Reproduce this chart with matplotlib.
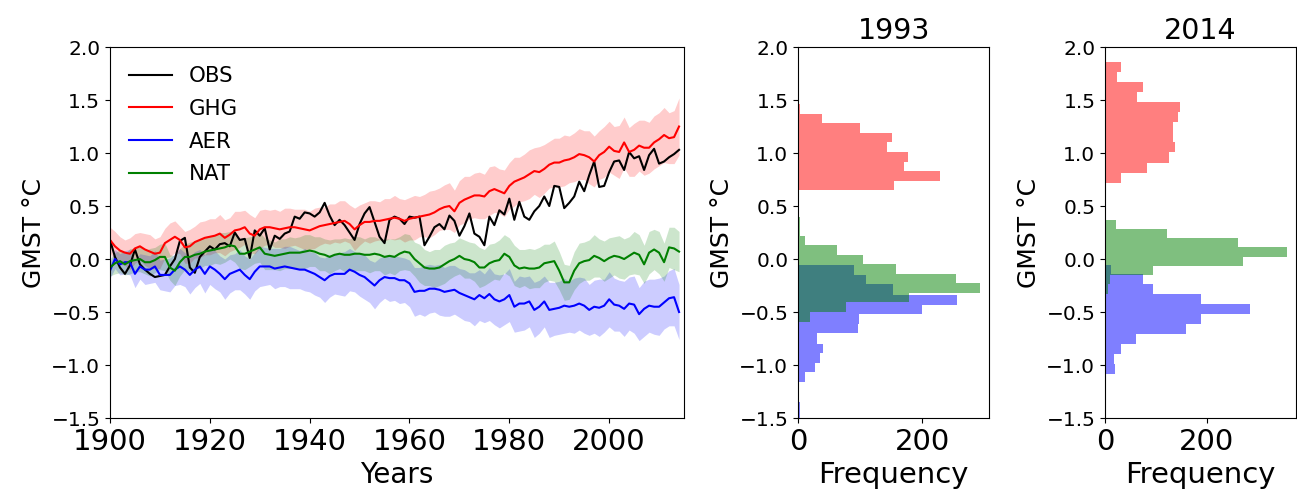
import numpy as np
import matplotlib
matplotlib.use('Agg')
import matplotlib.pyplot as plt

# anos da serie temporal
years = np.arange(1900, 2015)

obs = [0.18, 0.02, -0.08, -0.14, -0.06, 0.09, -0.05, -0.10, -0.14, -0.17,
       -0.16, -0.15, -0.07, 0.00, 0.17, 0.20, -0.08, -0.13, 0.02, 0.07,
       0.12, 0.09, 0.14, 0.15, 0.12, 0.25, 0.18, 0.19, 0.01, 0.27,
       0.22, 0.29, 0.09, 0.22, 0.19, 0.24, 0.26, 0.40, 0.38, 0.44,
       0.43, 0.40, 0.44, 0.53, 0.41, 0.32, 0.37, 0.32, 0.25, 0.18,
       0.33, 0.43, 0.49, 0.35, 0.21, 0.15, 0.37, 0.40, 0.38, 0.33,
       0.40, 0.39, 0.40, 0.13, 0.21, 0.30, 0.33, 0.28, 0.41, 0.36,
       0.22, 0.31, 0.43, 0.24, 0.21, 0.13, 0.40, 0.32, 0.46, 0.42,
       0.57, 0.37, 0.54, 0.40, 0.37, 0.45, 0.50, 0.59, 0.50, 0.69,
       0.68, 0.48, 0.53, 0.59, 0.73, 0.64, 0.79, 0.92, 0.68, 0.69,
       0.82, 0.92, 0.93, 0.84, 1.01, 0.95, 0.97, 0.84, 0.98, 1.04,
       0.90, 0.92, 0.96, 0.99, 1.03]

ghg = [0.18, 0.12, 0.08, 0.06, 0.05, 0.10, 0.12, 0.09, 0.07, 0.05,
       0.06, 0.15, 0.18, 0.21, 0.18, 0.11, 0.12, 0.16, 0.18, 0.20,
       0.21, 0.22, 0.24, 0.20, 0.23, 0.27, 0.28, 0.30, 0.24, 0.22,
       0.28, 0.30, 0.30, 0.29, 0.28, 0.29, 0.30, 0.30, 0.29, 0.28,
       0.27, 0.29, 0.31, 0.32, 0.33, 0.34, 0.35, 0.36, 0.33, 0.28,
       0.32, 0.35, 0.35, 0.36, 0.36, 0.37, 0.38, 0.39, 0.38, 0.36,
       0.38, 0.39, 0.40, 0.41, 0.42, 0.44, 0.47, 0.49, 0.50, 0.45,
       0.53, 0.56, 0.58, 0.60, 0.60, 0.59, 0.64, 0.66, 0.64, 0.62,
       0.69, 0.73, 0.75, 0.77, 0.80, 0.83, 0.82, 0.85, 0.89, 0.91,
       0.91, 0.93, 0.94, 0.96, 0.99, 0.98, 0.96, 0.92, 0.98, 1.01,
       1.06, 1.02, 1.01, 1.10, 1.01, 1.03, 1.07, 1.05, 1.05, 1.10,
       1.13, 1.17, 1.14, 1.15, 1.25]

aer = [-0.11, 0.00, -0.05, -0.03, -0.03, -0.14, -0.07, -0.10, -0.10, -0.07,
       -0.15, -0.15, -0.15, -0.10, -0.07, -0.10, -0.15, -0.10, -0.07, -0.14,
       -0.07, -0.10, -0.14, -0.19, -0.14, -0.12, -0.10, -0.15, -0.19, -0.12,
       -0.07, -0.07, -0.07, -0.09, -0.08, -0.07, -0.08, -0.09, -0.10, -0.10,
       -0.12, -0.14, -0.17, -0.20, -0.16, -0.14, -0.14, -0.14, -0.10, -0.12,
       -0.15, -0.17, -0.21, -0.25, -0.20, -0.17, -0.18, -0.18, -0.20, -0.20,
       -0.23, -0.31, -0.30, -0.30, -0.28, -0.28, -0.29, -0.31, -0.30, -0.29,
       -0.32, -0.34, -0.36, -0.38, -0.34, -0.37, -0.33, -0.38, -0.40, -0.38,
       -0.34, -0.45, -0.42, -0.42, -0.40, -0.48, -0.45, -0.40, -0.48, -0.47,
       -0.46, -0.44, -0.45, -0.44, -0.42, -0.44, -0.48, -0.45, -0.46, -0.44,
       -0.38, -0.43, -0.44, -0.47, -0.42, -0.43, -0.52, -0.47, -0.44, -0.45,
       -0.45, -0.41, -0.37, -0.36, -0.50]

nat = [-0.08, -0.04, -0.02, -0.05, -0.02, -0.01, 0.00, -0.03, -0.03, -0.01,
       0.02, 0.02, -0.08, -0.11, -0.03, 0.02, 0.02, 0.04, 0.05, 0.07,
       0.08, 0.09, 0.10, 0.11, 0.13, 0.12, 0.05, 0.05, 0.07, 0.09,
       0.11, 0.05, 0.04, 0.03, 0.04, 0.05, 0.06, 0.06, 0.06, 0.07,
       0.08, 0.07, 0.05, 0.04, 0.02, 0.04, 0.05, 0.04, 0.04, 0.05,
       0.05, 0.04, 0.04, 0.05, 0.04, 0.02, 0.03, 0.02, 0.05, 0.07,
       0.06, 0.00, -0.04, -0.08, -0.09, -0.09, -0.08, -0.05, -0.02, 0.00,
       0.03, 0.00, -0.01, -0.03, -0.08, -0.08, -0.04, -0.02, -0.01, 0.05,
       0.02, -0.06, -0.09, -0.08, -0.09, -0.09, -0.08, -0.04, -0.03, -0.02,
       -0.11, -0.22, -0.22, -0.11, -0.04, -0.02, -0.01, 0.03, 0.01, -0.02,
       0.01, 0.03, 0.02, 0.00, 0.03, 0.06, 0.04, -0.05, 0.06, 0.09,
       0.06, -0.03, 0.11, 0.10, 0.07]

# meia largura das faixas de incerteza
ghg_sd = [.12, .14, .13, .12, .15, .14, .13, .15, .16, .14,
          .15, .14, .16, .15, .13, .15, .16, .15, .17, .16,
          .17, .16, .18, .17, .16, .18, .17, .16, .18, .17,
          .18, .17, .16, .18, .17, .19, .18, .17, .18, .19,
          .18, .19, .18, .17, .19, .18, .20, .19, .18, .20,
          .19, .18, .20, .19, .18, .20, .19, .21, .19, .20,
          .20, .21, .19, .20, .22, .21, .20, .21, .22, .20,
          .21, .22, .20, .21, .22, .21, .23, .22, .21, .22,
          .22, .23, .21, .22, .23, .22, .24, .23, .22, .23,
          .23, .24, .22, .23, .24, .23, .25, .24, .23, .24,
          .24, .23, .25, .24, .23, .25, .24, .26, .24, .25,
          .25, .26, .24, .25, .27]

aer_sd = [.07, .09, .10, .11, .12, .13, .12, .14, .13, .15,
          .14, .15, .16, .15, .17, .16, .18, .17, .16, .18,
          .17, .18, .17, .19, .18, .17, .19, .18, .19, .18,
          .19, .18, .17, .19, .18, .19, .20, .19, .18, .20,
          .19, .20, .19, .21, .20, .19, .20, .21, .20, .19,
          .20, .21, .20, .22, .21, .20, .22, .21, .22, .21,
          .22, .23, .22, .24, .23, .22, .24, .23, .24, .23,
          .23, .24, .23, .25, .24, .23, .25, .24, .25, .24,
          .25, .24, .26, .25, .24, .26, .25, .24, .26, .25,
          .25, .26, .24, .26, .25, .26, .24, .25, .27, .25,
          .26, .25, .24, .26, .25, .27, .25, .26, .25, .26,
          .27, .25, .26, .27, .26]

nat_sd = [.08, .10, .11, .10, .12, .11, .12, .11, .13, .12,
          .12, .13, .12, .14, .13, .12, .14, .13, .14, .13,
          .14, .13, .15, .14, .13, .15, .14, .15, .14, .13,
          .14, .15, .14, .13, .15, .14, .15, .14, .15, .16,
          .15, .14, .16, .15, .16, .15, .14, .16, .15, .16,
          .16, .15, .17, .16, .15, .17, .16, .17, .16, .17,
          .17, .16, .18, .17, .16, .18, .17, .18, .17, .16,
          .17, .18, .17, .18, .19, .17, .18, .17, .19, .18,
          .18, .19, .18, .17, .19, .18, .19, .18, .17, .19,
          .18, .17, .16, .18, .19, .18, .19, .20, .18, .19,
          .19, .18, .20, .19, .18, .20, .19, .18, .20, .19,
          .20, .18, .19, .20, .19]

# histogramas (bordas de baixo para cima, contagens)
ghg_edges_93 = [0.65, 0.74, 0.83, 0.92, 1.01, 1.10, 1.19, 1.28, 1.37, 1.46]
ghg_counts_93 = [155, 229, 171, 177, 143, 151, 100, 38, 3]
aer_edges_93 = [-1.53, -1.44, -1.35, -1.26, -1.16, -1.07, -0.98, -0.89, -0.80,
                -0.70, -0.61, -0.52, -0.43, -0.34, -0.24, -0.15, -0.06]
aer_counts_93 = [3, 3, 0, 0, 11, 28, 36, 40, 30, 97, 98, 200, 256, 153, 109, 90]
nat_edges_93 = [-0.59, -0.50, -0.41, -0.32, -0.23, -0.14, -0.05, 0.04, 0.13,
                0.22, 0.31, 0.40]
nat_counts_93 = [19, 78, 179, 293, 255, 157, 105, 62, 11, 3, 3]

ghg_edges_14 = [0.72, 0.815, 0.91, 1.005, 1.10, 1.195, 1.29, 1.385, 1.48,
                1.575, 1.67, 1.765, 1.86]
ghg_counts_14 = [32, 82, 125, 137, 133, 133, 143, 148, 62, 75, 23, 32]
aer_edges_14 = [-1.08, -0.99, -0.895, -0.80, -0.71, -0.615, -0.52, -0.427,
                -0.333, -0.232, -0.144, -0.06]
aer_counts_14 = [20, 17, 32, 60, 160, 189, 285, 189, 95, 75, 11]
nat_edges_14 = [-0.326, -0.239, -0.152, -0.065, 0.022, 0.109, 0.196, 0.283, 0.37]
nat_counts_14 = [5, 10, 95, 272, 358, 262, 121, 21]

fig = plt.figure(figsize=(12.97, 4.94), dpi=100)
ax1 = fig.add_axes([0.0848, 0.1538, 0.4426, 0.751])
ax2 = fig.add_axes([0.6153, 0.1538, 0.1473, 0.751])
ax3 = fig.add_axes([0.852, 0.1538, 0.1473, 0.751])

# serie temporal
for vals, sd, c in [(ghg, ghg_sd, 'r'), (aer, aer_sd, 'b'), (nat, nat_sd, 'g')]:
    v = np.array(vals)
    s = np.array(sd)
    ax1.fill_between(years, v - s, v + s, color=c, alpha=0.2, linewidth=0)

ax1.plot(years, obs, 'k', lw=1.5, label='OBS')
ax1.plot(years, ghg, 'r', lw=1.5, label='GHG')
ax1.plot(years, aer, 'b', lw=1.5, label='AER')
ax1.plot(years, nat, 'g', lw=1.5, label='NAT')

ax1.set_xlim(1900, 2015)
ax1.set_ylim(-1.5, 2.0)
ax1.set_xticks(np.arange(1900, 2001, 20))
ax1.set_yticks(np.arange(-1.5, 2.01, 0.5))
ax1.set_xlabel('Years', fontsize=20)
ax1.set_ylabel('GMST °C', fontsize=18)
ax1.tick_params(axis='x', labelsize=21)
ax1.tick_params(axis='y', labelsize=14.5)
ax1.legend(loc='upper left', frameon=False, fontsize=15.3, labelspacing=0.6)

# histogramas
hists = [(ax2, '1993', ghg_edges_93, ghg_counts_93, aer_edges_93, aer_counts_93,
          nat_edges_93, nat_counts_93),
         (ax3, '2014', ghg_edges_14, ghg_counts_14, aer_edges_14, aer_counts_14,
          nat_edges_14, nat_counts_14)]
for ax, title, ge, gc, ae, ac, ne, nc in hists:
    ax.hist(ge[:-1], bins=ge, weights=gc, orientation='horizontal', color='r', alpha=0.5)
    ax.hist(ae[:-1], bins=ae, weights=ac, orientation='horizontal', color='b', alpha=0.5)
    ax.hist(ne[:-1], bins=ne, weights=nc, orientation='horizontal', color='g', alpha=0.5)
    ax.set_ylim(-1.5, 2.0)
    ax.set_yticks(np.arange(-1.5, 2.01, 0.5))
    ax.set_xticks([0, 200])
    ax.set_title(title, fontsize=20.5)
    ax.set_xlabel('Frequency', fontsize=21)
    ax.set_ylabel('GMST °C', fontsize=18)
    ax.tick_params(axis='x', labelsize=21)
    ax.tick_params(axis='y', labelsize=14.5)

fig.savefig('out.png', dpi=100)
